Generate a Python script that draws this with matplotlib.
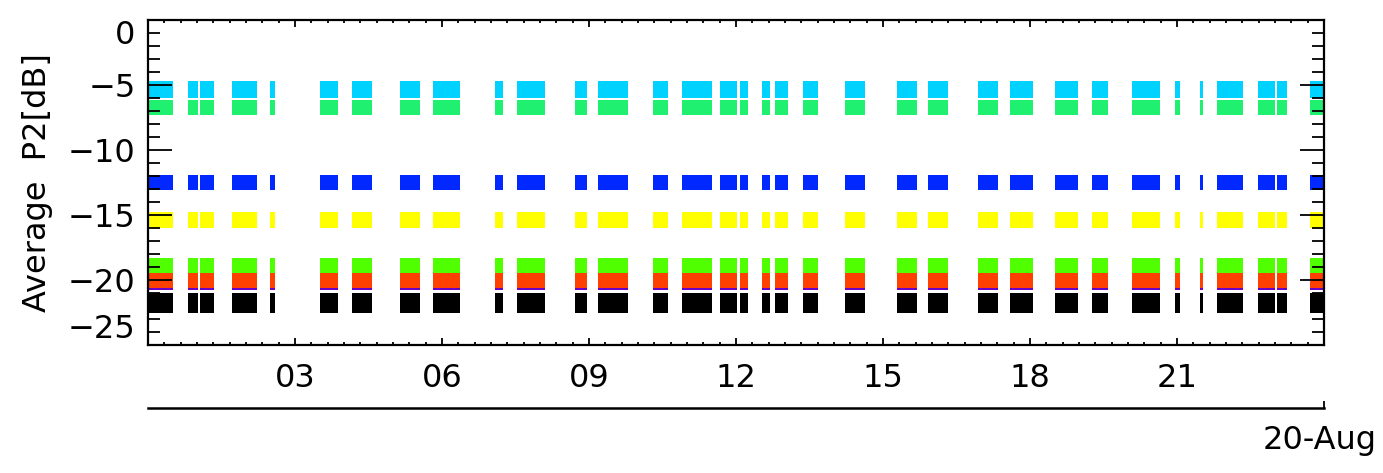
import numpy as np
import matplotlib
matplotlib.use("Agg")
import matplotlib.pyplot as plt

plt.rcParams['font.family'] = ['DejaVu Sans']

# measurement bursts on 20-Aug (hours of day)
burst_start = [0.00, 0.82, 1.06, 1.71, 2.49, 3.51, 4.16, 5.14, 5.82, 7.08, 7.53,
               8.71, 9.18, 10.31, 10.90, 11.67, 12.08, 12.53, 12.80, 13.37, 14.22,
               15.29, 15.92, 16.94, 17.59, 18.51, 19.27, 20.08, 20.96, 21.47, 21.82,
               22.65, 23.04, 23.71]
burst_end = [0.51, 1.02, 1.35, 2.22, 2.59, 3.88, 4.57, 5.55, 6.37, 7.24, 8.10,
             8.96, 9.80, 10.61, 11.51, 12.02, 12.24, 12.69, 13.06, 13.67, 14.63,
             15.69, 16.33, 17.35, 18.06, 18.98, 19.59, 20.65, 21.06, 21.53, 22.35,
             23.00, 23.24, 24.00]

# spread of Average P2 for each channel during a burst (dB)
series_colors = ['#00d2ff', '#20f070', '#0028ff', '#ffff00',
                 '#50ff00', '#6a00c8', '#ff4000', '#000000']
series_low = [-6.0, -7.3, -13.1, -16.0, -19.6, -20.8, -20.65, -22.5]
series_high = [-4.7, -6.15, -11.9, -14.8, -18.3, -19.45, -19.45, -21.0]

xticks = [3, 6, 9, 12, 15, 18, 21]
xticklabels = ['03', '06', '09', '12', '15', '18', '21']
yticks = [-25, -20, -15, -10, -5, 0]

W, H = 1383, 473
FS = 23
fig = plt.figure(figsize=(W / 100, H / 100), dpi=100)
ax = fig.add_axes([148 / W, 1 - 345 / H, 1176 / W, 325 / H])

starts = np.array(burst_start)
widths = np.array(burst_end) - starts
for c, lo, hi in zip(series_colors, series_low, series_high):
    ax.bar(starts, hi - lo, width=widths, bottom=lo, align='edge',
           color=c, linewidth=0)

ax.set_xlim(0, 24)
ax.set_ylim(-25, 0)
ax.set_xticks(xticks)
ax.set_xticklabels(xticklabels)
ax.set_xticks(np.arange(0, 24.01, 1 / 3), minor=True)
ax.set_yticks(yticks)
ax.set_yticklabels(['\u2212%d' % -v if v else '0' for v in yticks])
ax.set_yticks(np.arange(-25, 0.1, 1), minor=True)

for s in ax.spines.values():
    s.set_linewidth(1.6)

ax.tick_params(axis='x', which='both', direction='in', top=True, width=1.3,
               labelsize=FS, pad=13)
ax.tick_params(axis='x', which='major', length=5)
ax.tick_params(axis='x', which='minor', length=2.5)
ax.tick_params(axis='y', which='both', direction='in', right=True, width=1.3,
               labelsize=FS, pad=9)
ax.tick_params(axis='y', which='major', length=17)
ax.tick_params(axis='y', which='minor', length=8.5)

ylabs = ax.get_yticklabels()
ylabs[0].set_va('bottom')
ylabs[-1].set_va('top')

ax.set_ylabel('Average  P2[dB]', fontsize=FS, va='center')
ax.yaxis.set_label_coords((37 - 148) / 1176, 0.5)

# date axis below the hour axis
ax2 = fig.add_axes([148 / W, 1 - 408 / H, 1176 / W, 0.001])
ax2.set_xlim(0, 24)
for k in ['top', 'left', 'right']:
    ax2.spines[k].set_visible(False)
ax2.spines['bottom'].set_linewidth(1.8)
ax2.set_yticks([])
ax2.set_xticks([24])
ax2.set_xticklabels([''])
ax2.tick_params(axis='x', direction='in', length=5, width=1.3)
ax2.patch.set_visible(False)

fig.text(1263 / W, 1 - 440 / H, '20-Aug', fontsize=FS, ha='left', va='center')

fig.savefig('out.png', dpi=100)
